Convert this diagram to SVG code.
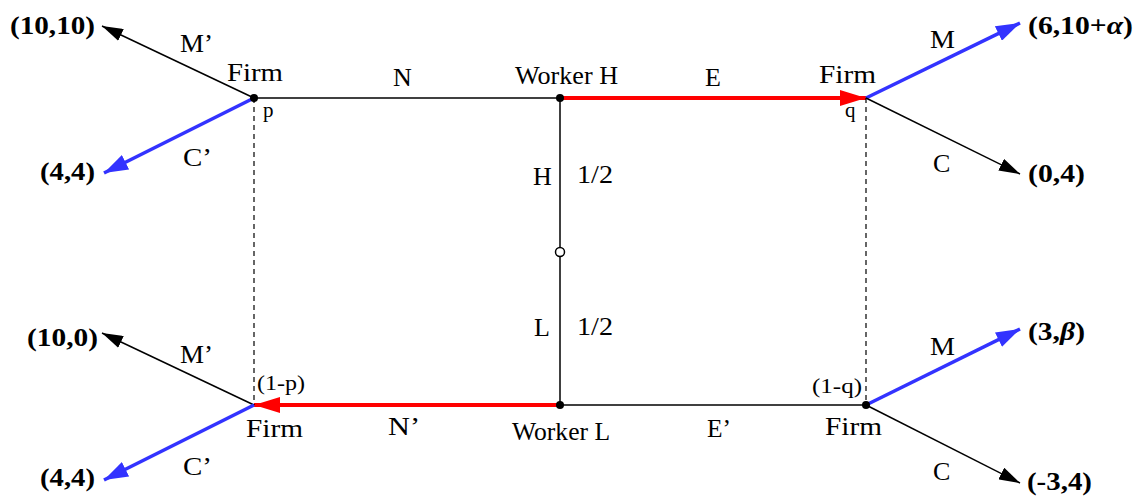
<svg xmlns="http://www.w3.org/2000/svg" width="1138" height="496" viewBox="0 0 1138 496" font-family="Liberation Serif, Times New Roman, Times, serif">
<style>
text{font-family:'Liberation Serif','Times New Roman',Times,serif;fill:#000}
.lb{font-size:26px}
.sm{font-size:21px}
.pay{font-size:26px;font-weight:bold}
.blk{stroke:#000;stroke-width:1.5;fill:none}
.blu{stroke:#3333ff;stroke-width:3.5;fill:none}
.red{stroke:#ff0000;stroke-width:4;fill:none}
.dash{stroke:#000;stroke-width:1.2;stroke-dasharray:5 4;fill:none}
</style>
<defs>
<marker id="ab" markerUnits="userSpaceOnUse" markerWidth="21" markerHeight="13" refX="21" refY="6.5" orient="auto"><path d="M0,0 L21,6.5 L0,13 z" fill="#000"/></marker>
<marker id="au" markerUnits="userSpaceOnUse" markerWidth="24" markerHeight="16" refX="24" refY="8" orient="auto"><path d="M0,0 L24,8 L0,16 z" fill="#3333ff"/></marker>
<marker id="ar" markerUnits="userSpaceOnUse" markerWidth="26" markerHeight="16" refX="26" refY="8" orient="auto"><path d="M0,0 L26,8 L0,16 z" fill="#ff0000"/></marker>
</defs>
<g id="connectors">
<line class="blk" x1="254" y1="98" x2="560" y2="98"/>
<line class="red" x1="560" y1="98" x2="866" y2="98" marker-end="url(#ar)"/>
<line class="blk" x1="560" y1="98" x2="560" y2="405"/>
<line class="blk" x1="560" y1="405" x2="866" y2="405"/>
<line class="red" x1="560" y1="405" x2="254" y2="405" marker-end="url(#ar)"/>
<line class="dash" x1="254" y1="98" x2="254" y2="405"/>
<line class="dash" x1="866" y1="98" x2="866" y2="405"/>
<line class="blk" x1="254" y1="98" x2="102" y2="26" marker-end="url(#ab)"/>
<line class="blu" x1="254" y1="98" x2="104" y2="173" marker-end="url(#au)"/>
<line class="blu" x1="866" y1="98" x2="1020" y2="23" marker-end="url(#au)"/>
<line class="blk" x1="866" y1="98" x2="1020" y2="174" marker-end="url(#ab)"/>
<line class="blk" x1="254" y1="405" x2="102" y2="333" marker-end="url(#ab)"/>
<line class="blu" x1="254" y1="405" x2="104" y2="480" marker-end="url(#au)"/>
<line class="blu" x1="866" y1="405" x2="1020" y2="329" marker-end="url(#au)"/>
<line class="blk" x1="866" y1="405" x2="1020" y2="483" marker-end="url(#ab)"/>
</g>
<g id="firm-top-left">
<circle cx="254" cy="98" r="4" fill="#000"/>
<text class="lb" x="227" y="81" textLength="56" lengthAdjust="spacingAndGlyphs">Firm</text>
<text class="sm" x="263" y="117">p</text>
<text class="lb" x="180" y="52" textLength="33" lengthAdjust="spacingAndGlyphs">M’</text>
<text class="lb" x="183" y="166" textLength="29" lengthAdjust="spacingAndGlyphs">C’</text>
<text class="pay" x="10" y="34" textLength="85" lengthAdjust="spacingAndGlyphs">(10,10)</text>
<text class="pay" x="40" y="180" textLength="55" lengthAdjust="spacingAndGlyphs">(4,4)</text>
</g>
<g id="worker-h">
<circle cx="560" cy="98" r="4" fill="#000"/>
<text class="lb" x="515" y="84" textLength="103" lengthAdjust="spacingAndGlyphs">Worker H</text>
<text class="lb" x="393" y="86">N</text>
<text class="lb" x="705" y="86">E</text>
</g>
<g id="firm-top-right">
<text class="lb" x="819" y="83" textLength="57" lengthAdjust="spacingAndGlyphs">Firm</text>
<text class="sm" x="845" y="117">q</text>
<text class="lb" x="930" y="48" textLength="25" lengthAdjust="spacingAndGlyphs">M</text>
<text class="lb" x="933" y="172">C</text>
<text class="pay" x="1028" y="34" textLength="105" lengthAdjust="spacingAndGlyphs">(6,10+<tspan font-style="italic">α</tspan>)</text>
<text class="pay" x="1028" y="182" textLength="57" lengthAdjust="spacingAndGlyphs">(0,4)</text>
</g>
<g id="nature">
<circle cx="560" cy="252" r="4.5" fill="#fff" stroke="#000" stroke-width="1.5"/>
<text class="lb" x="533" y="185">H</text>
<text class="lb" x="577" y="183" textLength="36" lengthAdjust="spacingAndGlyphs">1/2</text>
<text class="lb" x="534" y="336">L</text>
<text class="lb" x="577" y="335" textLength="36" lengthAdjust="spacingAndGlyphs">1/2</text>
</g>
<g id="worker-l">
<circle cx="560" cy="405" r="4" fill="#000"/>
<text class="lb" x="512" y="440" textLength="98" lengthAdjust="spacingAndGlyphs">Worker L</text>
<text class="lb" x="388" y="435" textLength="32" lengthAdjust="spacingAndGlyphs">N’</text>
<text class="lb" x="707" y="437" textLength="24" lengthAdjust="spacingAndGlyphs">E’</text>
</g>
<g id="firm-bottom-left">
<text class="sm" x="257" y="390" textLength="48" lengthAdjust="spacingAndGlyphs">(1-p)</text>
<text class="lb" x="246" y="437" textLength="57" lengthAdjust="spacingAndGlyphs">Firm</text>
<text class="lb" x="180" y="363" textLength="33" lengthAdjust="spacingAndGlyphs">M’</text>
<text class="lb" x="183" y="475" textLength="29" lengthAdjust="spacingAndGlyphs">C’</text>
<text class="pay" x="27" y="346" textLength="71" lengthAdjust="spacingAndGlyphs">(10,0)</text>
<text class="pay" x="40" y="486" textLength="55" lengthAdjust="spacingAndGlyphs">(4,4)</text>
</g>
<g id="firm-bottom-right">
<circle cx="866" cy="405" r="4" fill="#000"/>
<text class="sm" x="812" y="393" textLength="50" lengthAdjust="spacingAndGlyphs">(1-q)</text>
<text class="lb" x="825" y="435" textLength="57" lengthAdjust="spacingAndGlyphs">Firm</text>
<text class="lb" x="930" y="355" textLength="25" lengthAdjust="spacingAndGlyphs">M</text>
<text class="lb" x="933" y="480">C</text>
<text class="pay" x="1028" y="340" textLength="57" lengthAdjust="spacingAndGlyphs">(3,<tspan font-style="italic">β</tspan>)</text>
<text class="pay" x="1027" y="490" textLength="65" lengthAdjust="spacingAndGlyphs">(-3,4)</text>
</g>
</svg>
